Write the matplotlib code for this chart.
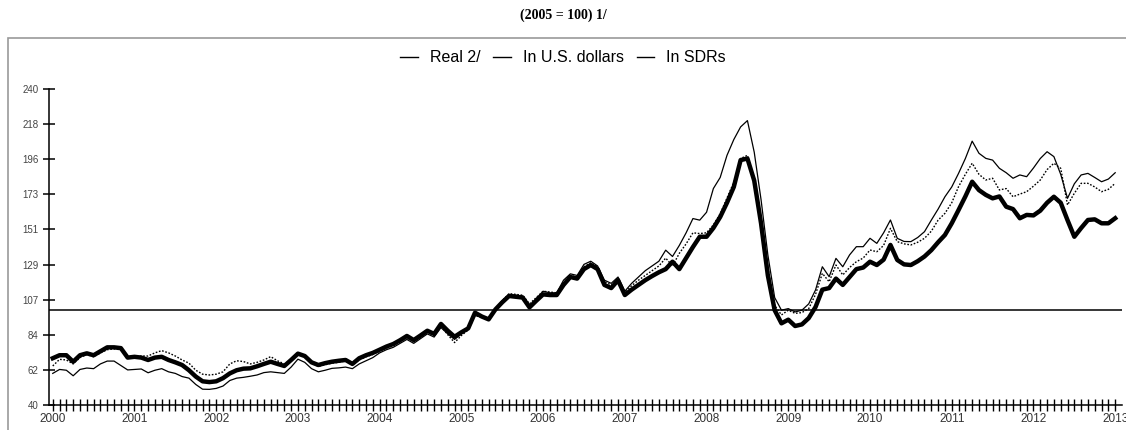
import numpy as np
import matplotlib
matplotlib.use("Agg")
import matplotlib.pyplot as plt
from matplotlib.lines import Line2D
from matplotlib.patches import Rectangle

# monthly, Jan 2000 .. Jan 2013
real = [69.6, 71.5, 71.5, 67.4, 71.5, 72.7, 71.5, 74, 76.5, 76.5, 76, 70,
        70.5, 70, 68.5, 70, 70.5, 68.5, 67, 65.3, 62, 58, 55, 54.5,
        55, 57, 60, 62, 63, 63.2, 64.5, 66, 67.4, 66, 64.7, 68.5,
        72.5, 71, 67, 65.3, 66.5, 67.4, 68, 68.5, 66, 69.6, 71.5, 73,
        75, 77, 78.6, 81, 83.7, 81.1, 84, 87, 85, 91.3, 87, 83.2,
        86, 88.5, 98.4, 96, 94.2, 100.5, 105, 109, 108.5, 108, 101.8, 106,
        110, 109.6, 109.6, 116, 121, 120, 126, 128.6, 126, 116, 114, 119,
        109.6, 113, 116, 119, 121.6, 124, 126, 130.7, 126, 133, 140, 146.5,
        146.5, 152, 159, 168, 178, 195, 196, 182, 155, 122, 100, 91.7,
        94, 90, 91, 95, 102, 113, 114, 120, 116, 121, 126, 127,
        130.7, 128.6, 132, 141.3, 131.8, 129, 128.6, 131, 134, 138, 143, 147.6,
        155, 163.4, 172, 181.3, 176, 173, 170.8, 172, 165.5, 164, 158.2, 160.3,
        160, 163, 168, 171.8, 168, 157, 146.5, 152, 157.1, 157.5, 155, 155,
        158.2]
usd = [60, 62.5, 62, 58.5, 62.5, 63.4, 63, 66, 67.8, 67.8, 65, 62.2,
       62.5, 62.8, 60.4, 62, 63, 61, 60, 58, 57, 53, 50, 49.9,
       50.5, 52, 55.5, 57, 57.5, 58.2, 59, 60.5, 61, 60.5, 60, 64,
       69, 67, 63, 61, 62, 63.2, 63.5, 64, 63, 66, 68, 70,
       73, 75, 76.5, 79, 81.5, 79, 82, 85, 83, 89, 85, 81.5,
       85, 88, 98, 96, 94.5, 101, 106, 110, 109.5, 109, 102.5, 107.5,
       112, 111, 111, 119, 123, 122, 129, 131, 128, 119, 117, 121,
       112, 117, 121, 125, 128, 131, 138, 134, 141, 149, 158, 157,
       162, 177, 184, 198, 208, 216, 220, 200, 170, 135, 108, 100,
       101, 98.9, 100, 104, 112.8, 127.5, 121.2, 132.8, 127.5, 135, 140.2, 140.2,
       145.5, 142.3, 149, 157.1, 145.5, 143.5, 143.4, 146, 149.7, 157, 164, 171.8,
       178, 186.6, 196, 207, 199.3, 196.1, 195, 189.8, 187, 183.5, 185.6, 184.5,
       190, 196, 200.3, 197.2, 186, 170.8, 180, 185.6, 186.6, 184, 181.3, 183,
       187]
sdr = [64.7, 68.9, 68.5, 66, 70, 72, 70.5, 73, 75, 75.5, 75, 70,
       70.5, 71, 71, 73, 74.4, 73, 71, 68.5, 66.5, 62, 59.5, 59,
       59.5, 61, 66, 68, 67.5, 66, 67, 68.5, 70.6, 68, 66, 68.5,
       72.5, 70.5, 66.5, 64.5, 65.5, 66.5, 67, 68, 65.5, 68.5, 70.5, 72,
       74, 76, 77.5, 80, 82.5, 80, 83, 86, 84, 90, 84.5, 79.5,
       84, 87.5, 96.5, 95.5, 94.5, 100.5, 106, 110.5, 110, 109.5, 104, 108,
       112, 111.5, 111, 117.5, 122, 121, 127.5, 130, 127.5, 118, 116, 120,
       111, 115.5, 119, 122, 125, 128, 133, 128, 136, 142, 149, 148.5,
       149, 154, 161, 171, 181, 196, 198, 184, 158, 127, 103, 97,
       100, 98, 98.5, 101, 110, 123.3, 118, 128.6, 122.3, 127, 130.7, 133,
       138.1, 137, 141, 151.8, 143.4, 142, 141.3, 143, 145.5, 150, 157, 161.3,
       168, 178.2, 186, 193, 186, 182.4, 183.5, 176.1, 177, 171.8, 173.5, 175,
       178.5, 182.4, 189, 193, 189.8, 166.6, 174, 180.3, 180.3, 178, 175, 176.5,
       180.3]

years = list(range(2000, 2014))
ytick_labels = ["40", "62", "84", "107", "129", "151", "173", "196", "218", "240"]
series_names = ["Real 2/", "In U.S. dollars", "In SDRs"]

months = np.arange(len(real))

fig = plt.figure(figsize=(11.26, 4.3), dpi=100)
fig.patches.append(Rectangle((8 / 1126, -0.1), 1.2, 0.1 + (430 - 38) / 430,
                             transform=fig.transFigure, fill=False,
                             edgecolor="#999999", lw=1.2))
fig.text(0.5, 1 - 15 / 430, "(2005 = 100) 1/", ha="center", va="center",
         family="Liberation Serif", fontweight="bold", fontsize=10)

ax = fig.add_axes([49 / 1126, 25 / 430, 1073 / 1126, 316 / 430])
ax.plot(months, usd, color="black", lw=0.9)
ax.plot(months, sdr, color="black", lw=1.0, ls=(0, (1.2, 1.2)))
ax.plot(months, real, color="black", lw=3.2)
ax.axhline(100, color="black", lw=1.1)

ax.set_xlim(-0.55, 157)
ax.set_ylim(40, 240)
ax.set_yticks(np.linspace(40, 240, 10))
ax.set_yticklabels(ytick_labels)
ax.set_xticks([12 * (y - 2000) for y in years])
ax.set_xticklabels([str(y) for y in years])
ax.set_xticks(np.arange(0, 157), minor=True)
for s in ["top", "right"]:
    ax.spines[s].set_visible(False)
ax.spines["left"].set_bounds(40, 240)
ax.spines["left"].set_linewidth(1.1)
ax.spines["bottom"].set_linewidth(1.1)
ax.tick_params(axis="y", direction="inout", length=9, width=1.1,
               labelsize=7, labelcolor="#444444", pad=3)
ax.tick_params(axis="x", which="both", direction="inout", length=8, width=1.0,
               labelsize=8.5, labelcolor="#333333", pad=2)
for lab in ax.get_xticklabels() + ax.get_yticklabels():
    lab.set_family("Liberation Sans")

handles = [Line2D([], [], color="black", lw=1.0) for _ in series_names]
fig.legend(handles, series_names, loc="center", bbox_to_anchor=(0.5, 1 - 58 / 430),
           ncol=3, frameon=False, handlelength=1.1, handletextpad=0.75,
           columnspacing=0.8, prop={"family": "Liberation Sans", "size": 11.5})

fig.savefig("out.png", dpi=100)
